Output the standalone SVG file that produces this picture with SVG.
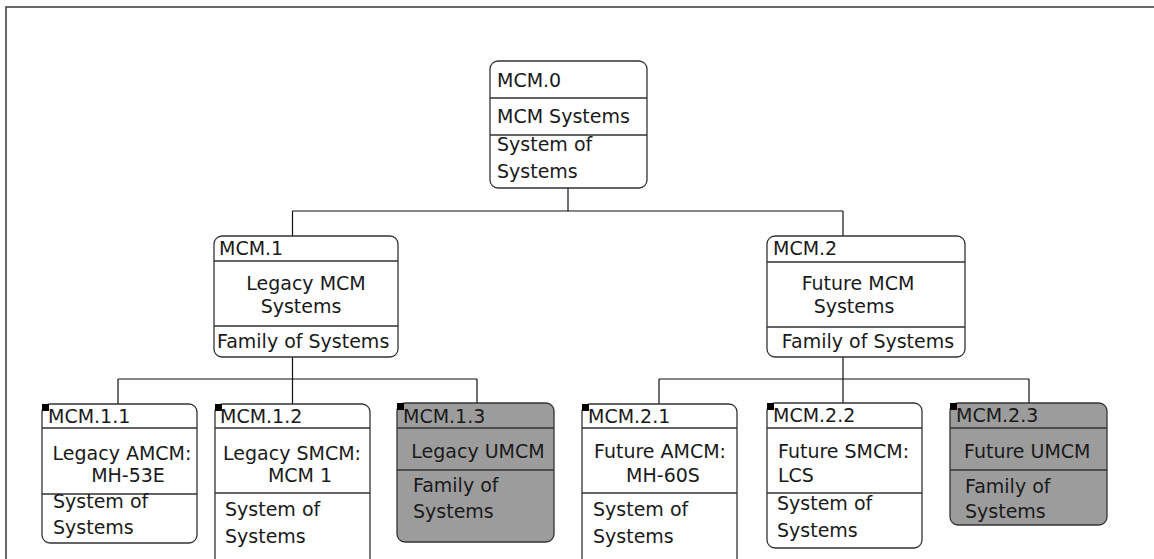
<svg xmlns="http://www.w3.org/2000/svg" width="1154" height="559" viewBox="0 0 1154 559">
<style>
.box{fill:#fff;stroke:#333;stroke-width:1.3}
.gbox{fill:#9c9c9c;stroke:#333;stroke-width:1.3}
.div{stroke:#333;stroke-width:1.3;fill:none}
.con{stroke:#111;stroke-width:1.2;fill:none}
text{font-family:"DejaVu Sans","Verdana",sans-serif;font-size:19px;fill:#1a1a1a}
.m{text-anchor:middle}
.mark{fill:#000}
</style>
<rect x="6" y="7" width="1300" height="700" fill="none" stroke="#444" stroke-width="1.6"/>
<g id="connectors">
<path class="con" d="M568,188V211M292.5,211H843M292.5,211V236M843,211V236"/>
<path class="con" d="M292.5,357V379M118,379H477M118,379V404M292.5,379V404M477,379V403"/>
<path class="con" d="M843,357V379M659,379H1029M659,379V404M843,379V403M1029,379V403"/>
</g>
<g id="MCM.0">
<rect class="box" x="490" y="61" width="157" height="127" rx="8"/>
<path class="div" d="M490,98H647M490,135H647"/>
<text x="497" y="87">MCM.0</text>
<text x="497" y="123">MCM Systems</text>
<text x="497" y="151">System of</text>
<text x="497" y="178">Systems</text>
</g>
<g id="MCM.1">
<rect class="box" x="214" y="236" width="184" height="121" rx="8"/>
<path class="div" d="M214,261H398M214,326H398"/>
<text x="219" y="255">MCM.1</text>
<text class="m" x="306" y="290">Legacy MCM</text>
<text class="m" x="301" y="313">Systems</text>
<text x="217" y="348">Family of Systems</text>
</g>
<g id="MCM.2">
<rect class="box" x="767" y="236" width="198" height="121" rx="8"/>
<path class="div" d="M767,262H965M767,327H965"/>
<text x="773" y="255">MCM.2</text>
<text class="m" x="858" y="290">Future MCM</text>
<text class="m" x="854" y="313">Systems</text>
<text class="m" x="868" y="348">Family of Systems</text>
</g>
<g id="MCM.1.1">
<rect class="box" x="42" y="404" width="155" height="139" rx="8"/>
<path class="div" d="M42,428H197M42,494H197"/>
<rect class="mark" x="42" y="404" width="7" height="7"/>
<text x="48" y="423">MCM.1.1</text>
<text class="m" x="122" y="460">Legacy AMCM:</text>
<text class="m" x="128" y="482">MH-53E</text>
<text x="53" y="508">System of</text>
<text x="53" y="534">Systems</text>
</g>
<g id="MCM.1.2">
<rect class="box" x="215" y="404" width="155" height="170" rx="8"/>
<path class="div" d="M215,428H370M215,493H370"/>
<rect class="mark" x="215" y="404" width="7" height="7"/>
<text x="220" y="423">MCM.1.2</text>
<text class="m" x="292" y="460">Legacy SMCM:</text>
<text class="m" x="300" y="482">MCM 1</text>
<text x="225" y="516">System of</text>
<text x="225" y="543">Systems</text>
</g>
<g id="MCM.1.3">
<rect class="gbox" x="397" y="403" width="157" height="139" rx="8"/>
<path class="div" d="M397,428H554M397,470H554"/>
<rect class="mark" x="397" y="403" width="7" height="7"/>
<text x="403" y="423">MCM.1.3</text>
<text class="m" x="478" y="458">Legacy UMCM</text>
<text x="413" y="492">Family of</text>
<text x="413" y="518">Systems</text>
</g>
<g id="MCM.2.1">
<rect class="box" x="582" y="404" width="155" height="170" rx="8"/>
<path class="div" d="M582,428H737M582,493H737"/>
<rect class="mark" x="582" y="404" width="7" height="7"/>
<text x="588" y="423">MCM.2.1</text>
<text class="m" x="660" y="458">Future AMCM:</text>
<text class="m" x="663" y="482">MH-60S</text>
<text x="593" y="516">System of</text>
<text x="593" y="543">Systems</text>
</g>
<g id="MCM.2.2">
<rect class="box" x="767" y="403" width="155" height="145" rx="8"/>
<path class="div" d="M767,428H922M767,493H922"/>
<rect class="mark" x="767" y="403" width="7" height="7"/>
<text x="773" y="422">MCM.2.2</text>
<text x="778" y="458">Future SMCM:</text>
<text x="778" y="482">LCS</text>
<text x="777" y="510">System of</text>
<text x="777" y="537">Systems</text>
</g>
<g id="MCM.2.3">
<rect class="gbox" x="950" y="403" width="157" height="122" rx="8"/>
<path class="div" d="M950,428H1107M950,470H1107"/>
<rect class="mark" x="950" y="403" width="7" height="7"/>
<text x="956" y="422">MCM.2.3</text>
<text x="964" y="458">Future UMCM</text>
<text x="965" y="493">Family of</text>
<text x="965" y="518">Systems</text>
</g>
</svg>
